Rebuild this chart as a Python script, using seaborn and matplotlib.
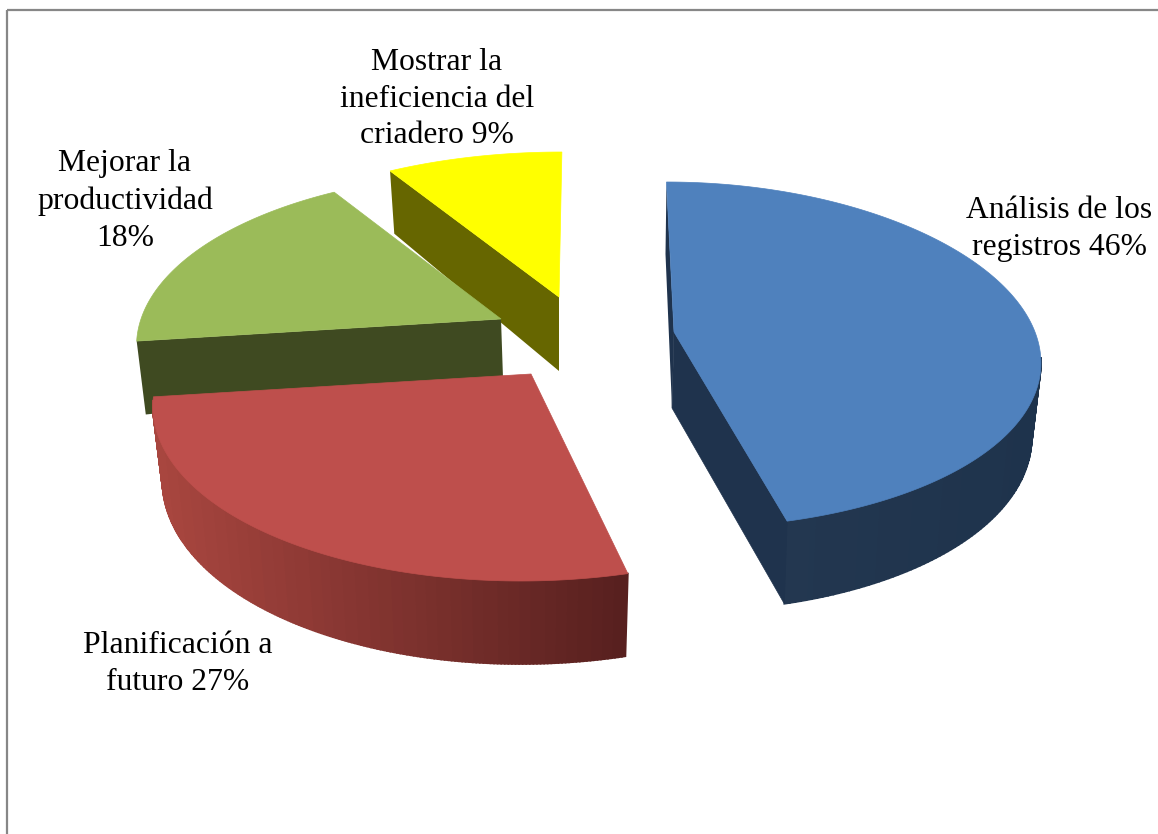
import numpy as np
import matplotlib
matplotlib.use('Agg')
import matplotlib.pyplot as plt
import seaborn as sns

# share of each slice, clockwise from the back of the pie
labels = ['Análisis de los\nregistros 46%', 'Planificación a\nfuturo 27%',
          'Mejorar la\nproductividad\n18%', 'Mostrar la\nineficiencia del\ncriadero 9%']
values = [46, 27, 18, 9]
top_colors = ['#4F81BD', '#BE4F4C', '#9BBB59', '#FFFF00']
wall_colors = [['#1E334C', '#233750'], ['#58201F', '#A8463F'], ['#3F4A21', '#3F4A21'], ['#666600', '#666600']]

apex_x = [674, 531, 501, 559]
apex_y = [332, 374, 319, 297]
low_x = [672, 531, 503, 559]
low_y = [408, 450, 378, 371]
lean = [0.05, -0.05, 0.0, -0.02]
radius_x = [361, 372, 360, 370]
back_radius = [150, 150, 146, 145]
front_radius = [196, 207, 200, 200]
label_x = [1059, 178, 125, 437]
label_y = [229, 664, 201, 99]

PERSP = 0.16

sns.set_theme(style='white')
plt.rcParams['font.family'] = ['Liberation Serif', 'DejaVu Sans']

fig, ax = plt.subplots(figsize=(11.58, 8.34), dpi=100)
fig.subplots_adjust(0, 0, 1, 1)
ax.set_xlim(0, 1158)
ax.set_ylim(834, 0)
ax.axis('off')


def rim(i, theta):
    c, s = np.cos(theta), np.sin(theta)
    mid = (back_radius[i] + front_radius[i]) / 2
    half = (front_radius[i] - back_radius[i]) / 2
    dy = -c * (mid - half * c)
    dx = radius_x[i] * s * (1 - PERSP * c) + lean[i] * dy
    return apex_x[i] + dx, apex_y[i] + dy


def lower(i, x, y, theta):
    depth = 72 - 11 * np.cos(theta)
    return apex_x[i] + (x - apex_x[i]) * 0.975, y + depth


def wedge(i, start, stop):
    theta = np.radians(np.linspace(start, stop, 200))
    x, y = rim(i, theta)
    bx, by = lower(i, x, y, theta)
    px, py = apex_x[i], apex_y[i]

    # outer wall, shaded piece by piece
    if i < 2:
        ramp = sns.blend_palette(wall_colors[i], 40)
        idx = np.where(np.cos(theta) < -0.14)[0]
        lo, hi = x[idx].min(), x[idx].max()
        for a, b in zip(idx[:-1], idx[1:]):
            pos = (hi - x[a]) / (hi - lo)
            col = ramp[min(int(pos * 40), 39)]
            ax.fill([x[a], x[b], bx[b], bx[a]], [y[a], y[b], by[b], by[a]], color=col, lw=1.2)

    # cut faces
    if i == 0:
        ax.fill([x[0], px, low_x[0], x[0] - 1], [y[0], py, low_y[0], y[0] + 72], color='#1F334D', lw=0)
        ax.fill([px, x[-1], bx[-1], low_x[0]], [py, y[-1], by[-1], low_y[0]], color='#1F334D', lw=0.5)
    if i >= 2:
        ax.fill([x[0], px, low_x[i], bx[0]], [y[0], py, low_y[i], by[0]], color=wall_colors[i][0], lw=0)

    ax.fill(np.r_[px, x], np.r_[py, y], color=top_colors[i], lw=0.5)


edges = np.r_[0, np.cumsum(values)] / np.sum(values) * 360

# back slices first, red goes over green
for i in [3, 2, 0, 1]:
    wedge(i, edges[i], edges[i + 1])

for i in range(4):
    ax.text(label_x[i], label_y[i], labels[i], ha='center', va='center',
            fontsize=22.8, color='black', linespacing=1.35)

# frame of the pasted chart, only top and left show
ax.plot([7, 7], [834, 10], color='#878787', lw=1.6, solid_capstyle='butt')
ax.plot([7, 1158], [10, 10], color='#878787', lw=1.6, solid_capstyle='butt')

fig.savefig('out.png', dpi=100, facecolor='white')
